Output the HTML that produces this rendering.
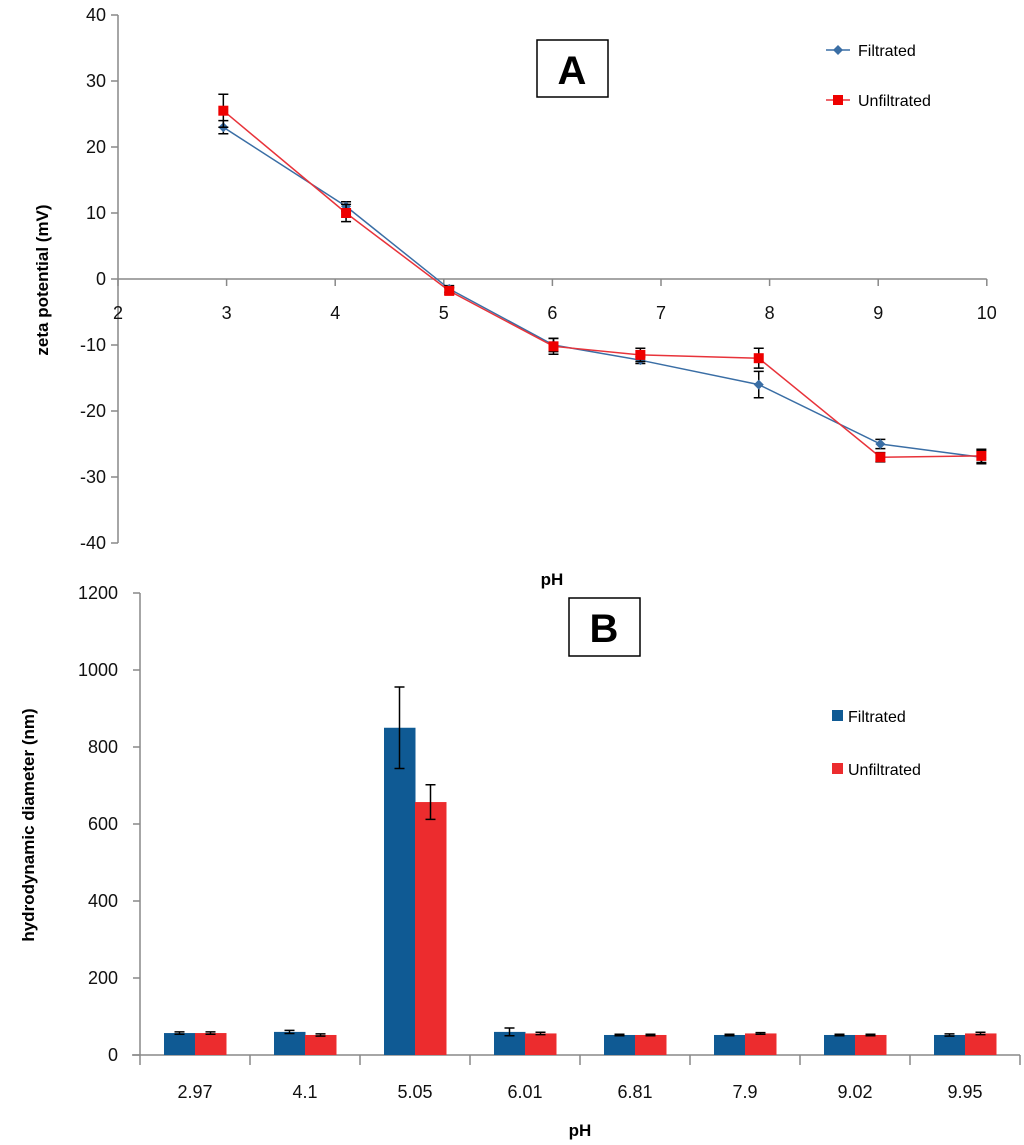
<!DOCTYPE html>
<html><head><meta charset="utf-8"><style>
html,body{margin:0;padding:0;background:#fff;}
svg{display:block;font-family:"Liberation Sans",sans-serif;}
</style></head><body>
<svg id="chart" width="1024" height="1145" viewBox="0 0 1024 1145" xmlns="http://www.w3.org/2000/svg"></svg>
<script>
// Chart A data
const phA = [2.97, 4.1, 5.05, 6.01, 6.81, 7.9, 9.02, 9.95];
const filtZeta = [23, 11, -1.5, -10, -12.3, -16, -25, -27];
const filtZetaErr = [1, 0.7, 0.5, 1, 0.5, 2, 0.7, 1];
const unfiltZeta = [25.5, 10, -1.8, -10.2, -11.5, -12, -27, -26.8];
const unfiltZetaErr = [2.5, 1.3, 0.5, 1.2, 1, 1.5, 0.7, 1];
const xTicksA = [2, 3, 4, 5, 6, 7, 8, 9, 10];
const yTicksA = [40, 30, 20, 10, 0, -10, -20, -30, -40];
// Chart B data
const catsB = ["2.97", "4.1", "5.05", "6.01", "6.81", "7.9", "9.02", "9.95"];
const filtDiam = [57, 60, 850, 60, 52, 52, 52, 52];
const filtDiamErr = [3, 4, 106, 10, 2, 2, 2, 3];
const unfiltDiam = [57, 52, 657, 56, 52, 56, 52, 56];
const unfiltDiamErr = [3, 3, 45, 3, 2, 2, 2, 3];
const yTicksB = [0, 200, 400, 600, 800, 1000, 1200];

const svg = document.getElementById('chart');
const NS = 'http://www.w3.org/2000/svg';
function mk(tag, attrs, parent) {
  const e = document.createElementNS(NS, tag);
  for (const k in attrs) e.setAttribute(k, attrs[k]);
  (parent || svg).appendChild(e);
  return e;
}
function txt(s, attrs, name) {
  const t = mk('text', attrs);
  t.textContent = s;
  
  
  return t;
}
const AX = '#888';

// ---- Chart A ----
const xA = v => 118 + (v - 2) * 108.6;
const yA = v => 279 - v * 6.6;
const gA = mk('g', {});


let l = mk('line', {x1: xA(2), y1: yA(40), x2: xA(2), y2: yA(-40), stroke: AX, 'stroke-width': 1.5}, gA);


l = mk('line', {x1: xA(2), y1: yA(0), x2: xA(10), y2: yA(0), stroke: AX, 'stroke-width': 1.5}, gA);


yTicksA.forEach(v => {
  mk('line', {x1: xA(2) - 7, y1: yA(v), x2: xA(2), y2: yA(v), stroke: AX, 'stroke-width': 1.5}, gA);
  txt(String(v), {x: xA(2) - 12, y: yA(v) + 6, 'text-anchor': 'end', 'font-size': 18, fill: '#111'}, 'y-tick-label-a');
});
xTicksA.forEach(v => {
  mk('line', {x1: xA(v), y1: yA(0), x2: xA(v), y2: yA(0) + 7, stroke: AX, 'stroke-width': 1.5}, gA);
  txt(String(v), {x: xA(v), y: yA(0) + 40, 'text-anchor': 'middle', 'font-size': 18, fill: '#111'}, 'x-tick-label-a');
});
function seriesA(vals, errs, color, name, square) {
  const g = mk('g', {});
  
  
  mk('polyline', {points: phA.map((p, i) => xA(p) + ',' + yA(vals[i])).join(' '), fill: 'none', stroke: color, 'stroke-width': 1.5}, g);
  phA.forEach((p, i) => {
    const x = xA(p), y1 = yA(vals[i] + errs[i]), y2 = yA(vals[i] - errs[i]);
    mk('path', {d: `M${x},${y1}V${y2}M${x-5},${y1}H${x+5}M${x-5},${y2}H${x+5}`, stroke: '#000', 'stroke-width': 1.5, fill: 'none'}, g);
    if (square) mk('rect', {x: x - 5, y: yA(vals[i]) - 5, width: 10, height: 10, fill: '#e00'}, g);
    else mk('path', {d: `M${x},${yA(vals[i])-5}l5,5l-5,5l-5,-5z`, fill: color}, g);
  });
}
seriesA(filtZeta, filtZetaErr, '#3a6ea5', 'filtrated-series-a', false);
seriesA(unfiltZeta, unfiltZetaErr, '#e8333a', 'unfiltrated-series-a', true);
let r = mk('rect', {x: 537, y: 40, width: 71, height: 57, fill: '#fff', stroke: '#000', 'stroke-width': 1.5});


txt('A', {x: 572, y: 84, 'text-anchor': 'middle', 'font-size': 40, 'font-weight': 'bold'}, 'panel-label-a');
mk('line', {x1: 826, y1: 50, x2: 850, y2: 50, stroke: '#3a6ea5', 'stroke-width': 1.5});
mk('path', {d: 'M838,45l5,5l-5,5l-5,-5z', fill: '#3a6ea5'});
txt('Filtrated', {x: 858, y: 56, 'font-size': 16}, 'legend-filtrated-a');
mk('line', {x1: 826, y1: 100, x2: 850, y2: 100, stroke: '#e8333a', 'stroke-width': 1.5});
mk('rect', {x: 833, y: 95, width: 10, height: 10, fill: '#e00'});
txt('Unfiltrated', {x: 858, y: 106, 'font-size': 16}, 'legend-unfiltrated-a');
txt('zeta potential (mV)', {x: 0, y: 0, transform: 'translate(48,280) rotate(-90)', 'text-anchor': 'middle', 'font-size': 17, 'font-weight': 'bold'}, 'y-axis-title-a');
txt('pH', {x: 552, y: 585, 'text-anchor': 'middle', 'font-size': 17, 'font-weight': 'bold'}, 'x-axis-title-a');

// ---- Chart B ----
const x0B = 140, bandB = 110;
const yB = v => 1055 - v * 0.385;
l = mk('line', {x1: x0B, y1: yB(1200), x2: x0B, y2: yB(0), stroke: AX, 'stroke-width': 1.5});


l = mk('line', {x1: x0B - 8, y1: yB(0), x2: x0B + bandB * catsB.length, y2: yB(0), stroke: AX, 'stroke-width': 1.5});


yTicksB.forEach(v => {
  mk('line', {x1: x0B - 7, y1: yB(v), x2: x0B, y2: yB(v), stroke: AX, 'stroke-width': 1.5});
  txt(String(v), {x: x0B - 22, y: yB(v) + 6, 'text-anchor': 'end', 'font-size': 18, fill: '#111'}, 'y-tick-label-b');
});
for (let i = 0; i <= catsB.length; i++) {
  mk('line', {x1: x0B + i * bandB, y1: yB(0), x2: x0B + i * bandB, y2: yB(0) + 10, stroke: AX, 'stroke-width': 1.5});
}
catsB.forEach((c, i) => {
  txt(c, {x: x0B + (i + 0.5) * bandB, y: 1098, 'text-anchor': 'middle', 'font-size': 18, fill: '#111'}, 'x-tick-label-b');
  [[filtDiam, filtDiamErr, '#0f5a94', 0, 'bar-filtrated'], [unfiltDiam, unfiltDiamErr, '#ec2c2e', 1, 'bar-unfiltrated']].forEach(([vals, errs, col, k, nm]) => {
    const bx = x0B + i * bandB + 24 + k * 31;
    const b = mk('rect', {x: bx, y: yB(vals[i]), width: 31.5, height: yB(0) - yB(vals[i]), fill: col});
    
    
    const cx = bx + 15.5, y1 = yB(vals[i] + errs[i]), y2 = yB(vals[i] - errs[i]);
    mk('path', {d: `M${cx},${y1}V${y2}M${cx-5},${y1}H${cx+5}M${cx-5},${y2}H${cx+5}`, stroke: '#000', 'stroke-width': 1.5, fill: 'none'});
  });
});
r = mk('rect', {x: 569, y: 598, width: 71, height: 58, fill: '#fff', stroke: '#000', 'stroke-width': 1.5});


txt('B', {x: 604, y: 642, 'text-anchor': 'middle', 'font-size': 40, 'font-weight': 'bold'}, 'panel-label-b');
mk('rect', {x: 832, y: 710, width: 11, height: 11, fill: '#0f5a94'});
txt('Filtrated', {x: 848, y: 722, 'font-size': 16}, 'legend-filtrated-b');
mk('rect', {x: 832, y: 763, width: 11, height: 11, fill: '#ec2c2e'});
txt('Unfiltrated', {x: 848, y: 775, 'font-size': 16}, 'legend-unfiltrated-b');
txt('hydrodynamic diameter (nm)', {x: 0, y: 0, transform: 'translate(34,825) rotate(-90)', 'text-anchor': 'middle', 'font-size': 17, 'font-weight': 'bold'}, 'y-axis-title-b');
txt('pH', {x: 580, y: 1136, 'text-anchor': 'middle', 'font-size': 17, 'font-weight': 'bold'}, 'x-axis-title-b');
</script>
</body></html>
